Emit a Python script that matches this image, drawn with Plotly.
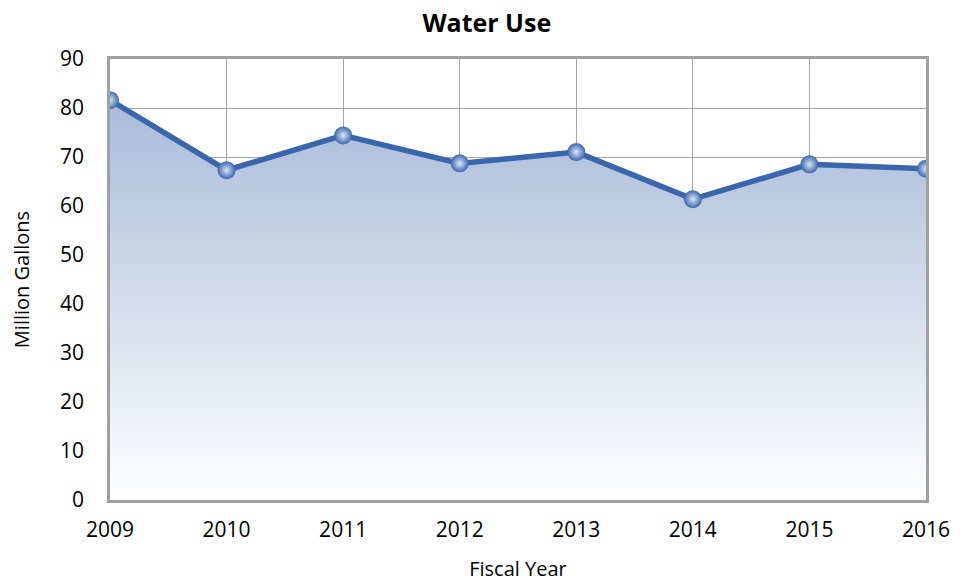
import plotly.graph_objects as go

years = [2009, 2010, 2011, 2012, 2013, 2014, 2015, 2016]
water_use = [81.6, 67.3, 74.4, 68.7, 71.0, 61.4, 68.5, 67.6]
y_ticks = [0, 10, 20, 30, 40, 50, 60, 70, 80, 90]

FONT = "Open Sans"

fig = go.Figure()
fig.add_trace(go.Scatter(
    x=years, y=water_use, mode="lines+markers",
    fill="tozeroy",
    fillgradient=dict(type="vertical",
                      colorscale=[[0, "rgba(255,255,255,1)"], [1, "rgba(168,187,217,1)"]]),
    line=dict(color="#3a66ad", width=5.5),
    marker=dict(size=18, color="#3a66ad",
                gradient=dict(type="radial", color="#dbe6f7"),
                line=dict(width=0)),
    showlegend=False,
    hoverinfo="x+y",
))

fig.update_layout(
    width=950, height=574,
    margin=dict(l=102, r=32, t=51, b=82, autoexpand=False),
    paper_bgcolor="white", plot_bgcolor="white",
    title=dict(text="<b>Water Use</b>", x=0.504, xanchor="center", y=1 - 15 / 574, yanchor="middle",
               font=dict(family=FONT, size=25, color="black")),
    font=dict(family=FONT, size=21, color="black"),
)
fig.update_xaxes(
    range=[2009, 2016], tickmode="array", tickvals=years,
    ticktext=[str(y) for y in years], automargin=False,
    showgrid=True, gridcolor="#a6a6a6", gridwidth=1,
    showline=True, linecolor="#a0a0a0", linewidth=2.5, mirror=True,
    ticks="outside", ticklen=9, tickcolor="rgba(0,0,0,0)",
    tickfont=dict(size=21), zeroline=False,
    title=dict(text="Fiscal Year", font=dict(size=20), standoff=30),
)
fig.update_yaxes(
    range=[0, 90], tickmode="array", tickvals=y_ticks, automargin=False,
    showgrid=True, gridcolor="#a6a6a6", gridwidth=1,
    showline=True, linecolor="#a0a0a0", linewidth=2.5, mirror=True,
    ticks="outside", ticklen=19, tickcolor="rgba(0,0,0,0)",
    tickfont=dict(size=21), zeroline=False,
    title=dict(text="Million Gallons", font=dict(size=20), standoff=26),
)

fig.write_html("out.html")
